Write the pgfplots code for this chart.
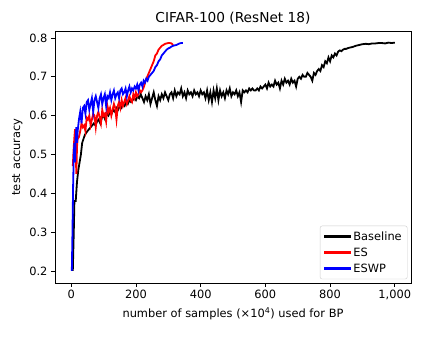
\documentclass[border=0pt]{standalone}
\usepackage{pgfplots}
\pgfplotsset{compat=1.18}
\usepackage{fontspec}
\setmainfont{DejaVu Sans}

\pgfplotstableread{
x y
5 0.20
8 0.30
10 0.38
14 0.38
18 0.43
22 0.46
26 0.48
30 0.50
34 0.53
38 0.54
42 0.55
46 0.555
50 0.56
55 0.565
60 0.57
65 0.575
70 0.58
75 0.575
80 0.585
85 0.59
90 0.58
95 0.595
100 0.60
105 0.59
110 0.605
115 0.60
120 0.61
125 0.605
130 0.615
135 0.61
140 0.62
145 0.615
150 0.625
155 0.62
160 0.63
165 0.625
170 0.635
175 0.63
180 0.64
185 0.635
190 0.64
195 0.645
200 0.64
205 0.65
210 0.645
215 0.655
220 0.645
225 0.635
230 0.65
235 0.64
240 0.655
245 0.63
250 0.645
255 0.66
260 0.64
265 0.625
270 0.65
275 0.64
280 0.655
285 0.645
290 0.66
295 0.65
300 0.64
305 0.655
310 0.66
315 0.645
320 0.665
325 0.65
330 0.66
335 0.655
340 0.67
345 0.65
350 0.66
355 0.645
360 0.665
365 0.655
370 0.66
375 0.65
380 0.665
385 0.655
390 0.66
395 0.65
400 0.665
405 0.655
410 0.66
415 0.645
420 0.665
425 0.64
430 0.66
435 0.635
440 0.665
445 0.645
450 0.67
455 0.64
460 0.665
465 0.65
470 0.66
475 0.645
480 0.665
485 0.655
490 0.67
495 0.65
500 0.66
505 0.655
510 0.665
515 0.65
520 0.66
525 0.635
530 0.665
535 0.66
540 0.665
545 0.66
550 0.67
555 0.665
560 0.67
565 0.665
570 0.665
575 0.67
580 0.665
585 0.675
590 0.67
595 0.675
600 0.68
605 0.67
610 0.685
615 0.675
620 0.68
625 0.675
630 0.69
635 0.68
640 0.685
645 0.67
650 0.69
655 0.68
660 0.695
665 0.685
670 0.69
675 0.68
680 0.695
685 0.685
690 0.69
695 0.675
700 0.695
705 0.70
710 0.695
715 0.705
720 0.70
725 0.70
730 0.71
735 0.705
740 0.70
745 0.69
750 0.71
755 0.705
760 0.715
765 0.72
770 0.715
775 0.73
780 0.725
785 0.74
790 0.735
795 0.75
800 0.74
805 0.755
810 0.75
815 0.76
820 0.755
825 0.765
830 0.768
835 0.766
840 0.77
845 0.772
850 0.772
855 0.774
860 0.775
870 0.777
880 0.78
890 0.782
900 0.784
910 0.785
920 0.784
930 0.786
940 0.786
950 0.787
960 0.787
970 0.786
980 0.788
990 0.787
1000 0.788
}\baseline

\pgfplotstableread{
x y
5 0.47
8 0.52
10 0.545
12 0.565
14 0.50
16 0.45
18 0.52
20 0.54
24 0.545
28 0.56
32 0.58
36 0.57
40 0.575
44 0.56
48 0.595
52 0.59
56 0.60
60 0.575
64 0.59
68 0.605
72 0.60
76 0.57
80 0.60
84 0.61
88 0.595
92 0.58
96 0.615
100 0.60
104 0.605
108 0.585
112 0.625
116 0.61
120 0.62
124 0.60
128 0.615
132 0.63
136 0.62
140 0.59
144 0.625
148 0.635
152 0.62
156 0.64
160 0.625
164 0.635
168 0.645
172 0.63
176 0.64
180 0.65
184 0.64
188 0.635
192 0.655
196 0.645
200 0.66
204 0.65
208 0.655
212 0.665
216 0.66
220 0.665
225 0.675
230 0.69
235 0.70
240 0.71
245 0.72
250 0.73
255 0.74
260 0.755
265 0.76
270 0.77
275 0.775
280 0.78
285 0.782
290 0.785
295 0.786
300 0.787
305 0.787
310 0.786
315 0.782
}\es

\pgfplotstableread{
x y
2 0.20
4 0.30
6 0.42
8 0.50
10 0.53
12 0.48
14 0.55
16 0.57
18 0.53
20 0.56
24 0.59
28 0.61
32 0.58
36 0.62
40 0.625
44 0.605
48 0.635
52 0.64
56 0.615
60 0.63
64 0.645
68 0.61
72 0.64
76 0.65
80 0.635
84 0.62
88 0.645
92 0.655
96 0.63
100 0.645
104 0.655
108 0.625
112 0.65
116 0.645
120 0.66
124 0.64
128 0.655
132 0.665
136 0.645
140 0.655
144 0.66
148 0.645
152 0.665
156 0.67
160 0.655
164 0.66
168 0.67
172 0.65
176 0.665
180 0.675
184 0.66
188 0.67
192 0.665
196 0.675
200 0.67
204 0.68
208 0.665
212 0.68
216 0.685
220 0.675
224 0.69
228 0.685
232 0.695
236 0.69
240 0.70
245 0.705
250 0.71
255 0.715
260 0.725
265 0.73
270 0.74
275 0.745
280 0.755
285 0.76
290 0.765
295 0.77
300 0.773
305 0.775
310 0.778
315 0.78
320 0.781
325 0.782
330 0.784
335 0.786
340 0.787
345 0.787
}\eswp

\begin{document}
\begin{tikzpicture}
\begin{axis}[
    name=ax,
    scale only axis,
    width=356pt, height=252pt,
    xmin=-50, xmax=1050,
    ymin=0.169, ymax=0.818,
    xtick={0,200,400,600,800,1000},
    ytick={0.2,0.3,0.4,0.5,0.6,0.7,0.8},
    yticklabel style={/pgf/number format/fixed, /pgf/number format/precision=1},
    /pgf/number format/assume math mode=true,
    tick align=outside,
    xtick pos=bottom, ytick pos=left,
    major tick length=4pt,
    tick style={black, line width=0.7pt},
    axis line style={line width=0.7pt},
    ticklabel style={font=\fontsize{11.4}{13}\selectfont},
    title={CIFAR-100 (ResNet 18)},
    title style={font=\fontsize{13.7}{16}\selectfont, yshift=-3pt},
    xlabel={number of samples (×10\textsuperscript{4}) used for BP},
    ylabel={test accuracy},
    xlabel style={yshift=-1pt},
    label style={font=\fontsize{11.4}{13}\selectfont},
    legend style={at={(0.99,0.015)}, anchor=south east,
        draw=black!20, rounded corners=2pt,
        font=\fontsize{11.4}{13}\selectfont,
        inner sep=3.5pt, row sep=2pt},
    legend cell align=left,
    legend image code/.code={\fill[sharp corners] (0pt,-0.9pt) rectangle (26pt,0.9pt);},
]
\addplot[black, line width=1.8pt] table[x=x,y=y] {\baseline};
\addlegendentry{Baseline}
\addplot[red, line width=1.8pt] table[x=x,y=y] {\es};
\addlegendentry{ES}
\addplot[blue, line width=1.8pt] table[x=x,y=y] {\eswp};
\addlegendentry{ESWP}
\end{axis}
\useasboundingbox (ax.south west) ++(-55pt,-56pt) rectangle ([xshift=13pt,yshift=31pt]ax.north east);
\end{tikzpicture}
\end{document}
